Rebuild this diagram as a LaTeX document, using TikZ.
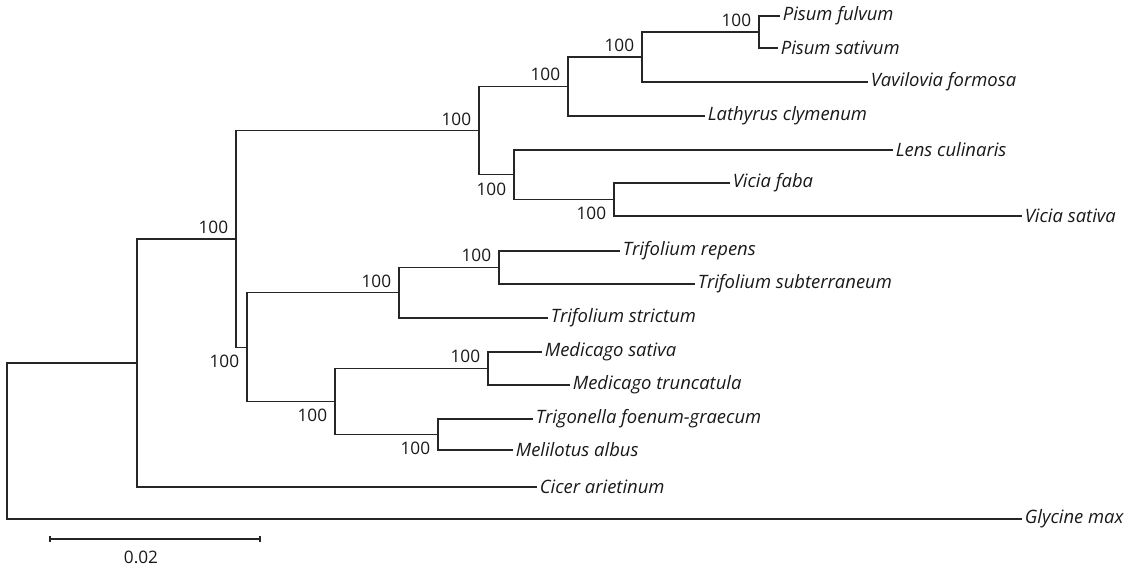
\documentclass[tikz,border=0pt]{standalone}
\usepackage{fontspec}
\setmainfont{Open Sans}
\begin{document}
\begin{tikzpicture}[
      x=0.02cm, y=-0.02cm,
      every node/.style={font=\fontsize{9.8}{11}\selectfont, text=black!90},
      branch/.style={draw=black!85, line width=0.6pt},
      taxon/.style={anchor=west, inner sep=1.4pt, font=\fontsize{10.5}{12}\selectfont\itshape},
      bootup/.style={anchor=south east, inner sep=0pt, xshift=-0.15cm, yshift=0.1cm},
      bootdown/.style={anchor=north east, inner sep=0pt, xshift=-0.15cm, yshift=-0.15cm}
  ]
    \useasboundingbox (0,0) rectangle (1135,567);

    \coordinate (root) at (7,441);
    \coordinate (papil) at (137,363);
    \coordinate (ivlc) at (236,239);
    \coordinate (vicieae) at (479,130.6);
    \coordinate (lathgrp) at (568,86.5);
    \coordinate (pisgrp) at (642,57);
    \coordinate (pisum) at (759,32);
    \coordinate (lensvic) at (514,174.75);
    \coordinate (vicia) at (614,199.5);
    \coordinate (trifol) at (247,347.1);
    \coordinate (trifgrp) at (399,292.75);
    \coordinate (trifpair) at (499,267.5);
    \coordinate (medtri) at (335,401.5);
    \coordinate (medic) at (488,368.5);
    \coordinate (trimel) at (438,434.5);

    \node[taxon] (pful) at (780,16) {Pisum fulvum};
    \node[taxon] (psat) at (778,48) {Pisum sativum};
    \node[taxon] (vfor) at (868,82) {Vavilovia formosa};
    \node[taxon] (lcly) at (705,116) {Lathyrus clymenum};
    \node[taxon] (lcul) at (893,150) {Lens culinaris};
    \node[taxon] (vfab) at (730,183) {Vicia faba};
    \node[taxon] (vsat) at (1022,216) {Vicia sativa};
    \node[taxon] (trep) at (620,251) {Trifolium repens};
    \node[taxon] (tsub) at (695,284) {Trifolium subterraneum};
    \node[taxon] (tstr) at (548,318) {Trifolium strictum};
    \node[taxon] (msat) at (542,352) {Medicago sativa};
    \node[taxon] (mtru) at (570,385) {Medicago truncatula};
    \node[taxon] (tfoe) at (533,419) {Trigonella foenum-graecum};
    \node[taxon] (malb) at (513,450) {Melilotus albus};
    \node[taxon] (cari) at (537,487) {Cicer arietinum};
    \node[taxon] (gmax) at (1022,519) {Glycine max};

    \foreach \p/\c in {root/gmax.west, root/papil, papil/ivlc, papil/cari.west,
        ivlc/vicieae, ivlc/trifol, vicieae/lathgrp, vicieae/lensvic,
        lathgrp/pisgrp, lathgrp/lcly.west, pisgrp/pisum, pisgrp/vfor.west,
        pisum/pful.west, pisum/psat.west, lensvic/lcul.west, lensvic/vicia,
        vicia/vfab.west, vicia/vsat.west, trifol/trifgrp, trifol/medtri,
        trifgrp/trifpair, trifgrp/tstr.west, trifpair/trep.west, trifpair/tsub.west,
        medtri/medic, medtri/trimel, medic/msat.west, medic/mtru.west,
        trimel/tfoe.west, trimel/malb.west} {
      \draw[branch] (\p) |- (\c);
    }

    \foreach \n in {ivlc,vicieae,lathgrp,pisgrp,pisum,trifgrp,trifpair,medic}
      \node[bootup] (bs-\n) at (\n) {100};
    \foreach \n in {lensvic,vicia,trifol,medtri,trimel}
      \node[bootdown] (bs-\n) at (\n) {100};

    \coordinate (sbl) at (50,539);
    \coordinate (sbr) at (260,539);
    \draw[branch] (sbl) -- (sbr);
    \draw[branch] ([yshift=-0.06cm]sbl) -- ([yshift=0.06cm]sbl);
    \draw[branch] ([yshift=-0.06cm]sbr) -- ([yshift=0.06cm]sbr);
    \node (sblabel) at (141,557) {0.02};
  \end{tikzpicture}
\end{document}
